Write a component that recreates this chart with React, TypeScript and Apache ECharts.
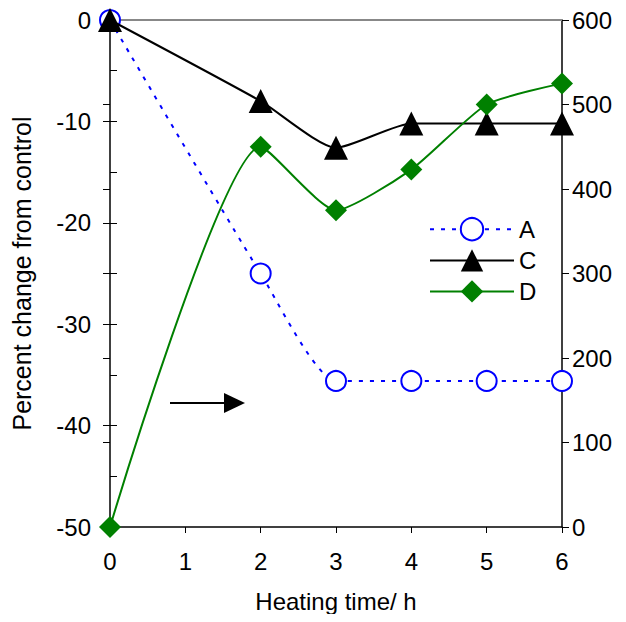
import React, { useEffect, useRef } from "react";
import * as echarts from "echarts";

const hours = [0, 2, 3, 4, 5, 6];
const seriesA = [0, -25, -35.6, -35.6, -35.6, -35.6];
const seriesC = [0, -8, -12.6, -10.2, -10.2, -10.2];
const seriesD = [0, 450, 375, 423, 500, 525];
const leftTicks = [-50, -40, -30, -20, -10, 0];
const rightTicks = [0, 100, 200, 300, 400, 500, 600];

const FONT = "Liberation Sans, Arial, sans-serif";

export default function App() {
  const ref = useRef<HTMLDivElement>(null);
  useEffect(() => {
    if (!ref.current) return;
    const chart = echarts.init(ref.current, undefined, { renderer: "svg" });
    const pair = (vals: number[]) => hours.map((h, i) => [h, vals[i]]);
    const labelStyle = { color: "#000", fontSize: 24, fontFamily: FONT };
    chart.setOption({
      animation: false,
      backgroundColor: "#fff",
      grid: { left: 110, right: 64, top: 20, bottom: 95, containLabel: false },
      xAxis: [
        {
          type: "value",
          min: 0,
          max: 6,
          interval: 1,
          name: "Heating time/ h",
          nameLocation: "middle",
          nameGap: 62,
          nameTextStyle: { color: "#000", fontSize: 24, fontFamily: FONT },
          axisLine: { show: true, onZero: false, lineStyle: { color: "#000", width: 1.5 } },
          axisTick: { show: true, inside: false, length: 6, lineStyle: { color: "#000" } },
          axisLabel: { ...labelStyle, margin: 22 },
          splitLine: { show: false },
        },
        {
          type: "value",
          min: 0,
          max: 6,
          position: "top",
          axisLine: { show: true, onZero: false, lineStyle: { color: "#888", width: 2 } },
          axisTick: { show: false },
          axisLabel: { show: false },
          splitLine: { show: false },
        },
      ],
      yAxis: [
        {
          type: "value",
          min: leftTicks[0],
          max: leftTicks[leftTicks.length - 1],
          interval: 10,
          position: "left",
          name: "Percent change from control",
          nameLocation: "middle",
          nameGap: 76,
          nameRotate: 90,
          nameTextStyle: { color: "#000", fontSize: 25, fontFamily: FONT },
          axisLine: { show: true, onZero: false, lineStyle: { color: "#000", width: 1.5 } },
          axisTick: { show: true, inside: false, length: 7, lineStyle: { color: "#000" } },
          axisLabel: { ...labelStyle, margin: 19 },
          splitLine: { show: false },
        },
        {
          type: "value",
          min: rightTicks[0],
          max: rightTicks[rightTicks.length - 1],
          interval: 100,
          position: "right",
          axisLine: { show: true, onZero: false, lineStyle: { color: "#000", width: 1.5 } },
          axisTick: { show: true, inside: false, length: 7, lineStyle: { color: "#000" } },
          axisLabel: { ...labelStyle, margin: 10 },
          splitLine: { show: false },
        },
        {
          type: "value",
          min: -50,
          max: 0,
          interval: 5,
          position: "left",
          axisLine: { show: false },
          axisTick: { show: true, inside: true, length: 7, lineStyle: { color: "#000" } },
          axisLabel: { show: false },
          splitLine: { show: false },
        },
        {
          type: "value",
          min: 0,
          max: 600,
          interval: 100,
          position: "right",
          axisLine: { show: false },
          axisTick: { show: true, inside: true, length: 7, lineStyle: { color: "#000" } },
          axisLabel: { show: false },
          splitLine: { show: false },
        },
      ],
      legend: {
        orient: "vertical",
        left: 424,
        top: 212,
        itemWidth: 84,
        itemHeight: 28,
        itemGap: 7,
        textStyle: { color: "#000", fontSize: 24, fontFamily: FONT, padding: [0, 0, 0, 0] },
        data: ["A", "C", "D"],
      },
      series: [
        {
          name: "A",
          type: "line",
          xAxisIndex: 0,
          yAxisIndex: 0,
          data: pair(seriesA),
          smooth: 0.2,
          symbol: "circle",
          symbolSize: 20,
          lineStyle: { color: "#0000FF", width: 2, type: [4, 7] },
          itemStyle: { color: "#fff", borderColor: "#0000FF", borderWidth: 2 },
          z: 3,
        },
        {
          name: "C",
          type: "line",
          xAxisIndex: 0,
          yAxisIndex: 0,
          data: pair(seriesC),
          smooth: 0.2,
          symbol: "triangle",
          symbolSize: 24,
          lineStyle: { color: "#000", width: 2 },
          itemStyle: { color: "#000" },
          z: 4,
        },
        {
          name: "D",
          type: "line",
          xAxisIndex: 0,
          yAxisIndex: 1,
          data: pair(seriesD),
          smooth: 0.2,
          symbol: "diamond",
          symbolSize: 22,
          lineStyle: { color: "#008000", width: 2 },
          itemStyle: { color: "#008000" },
          z: 5,
        },
      ],
      graphic: [
        {
          type: "line",
          shape: { x1: 170, y1: 403, x2: 226, y2: 403 },
          style: { stroke: "#000", lineWidth: 2 },
        },
        {
          type: "polygon",
          shape: { points: [[224, 393], [245, 403], [224, 413]] },
          style: { fill: "#000" },
        },
      ],
    });
    return () => chart.dispose();
  }, []);
  return <div ref={ref} style={{ width: 626, height: 622, margin: -8 }} />;
}
